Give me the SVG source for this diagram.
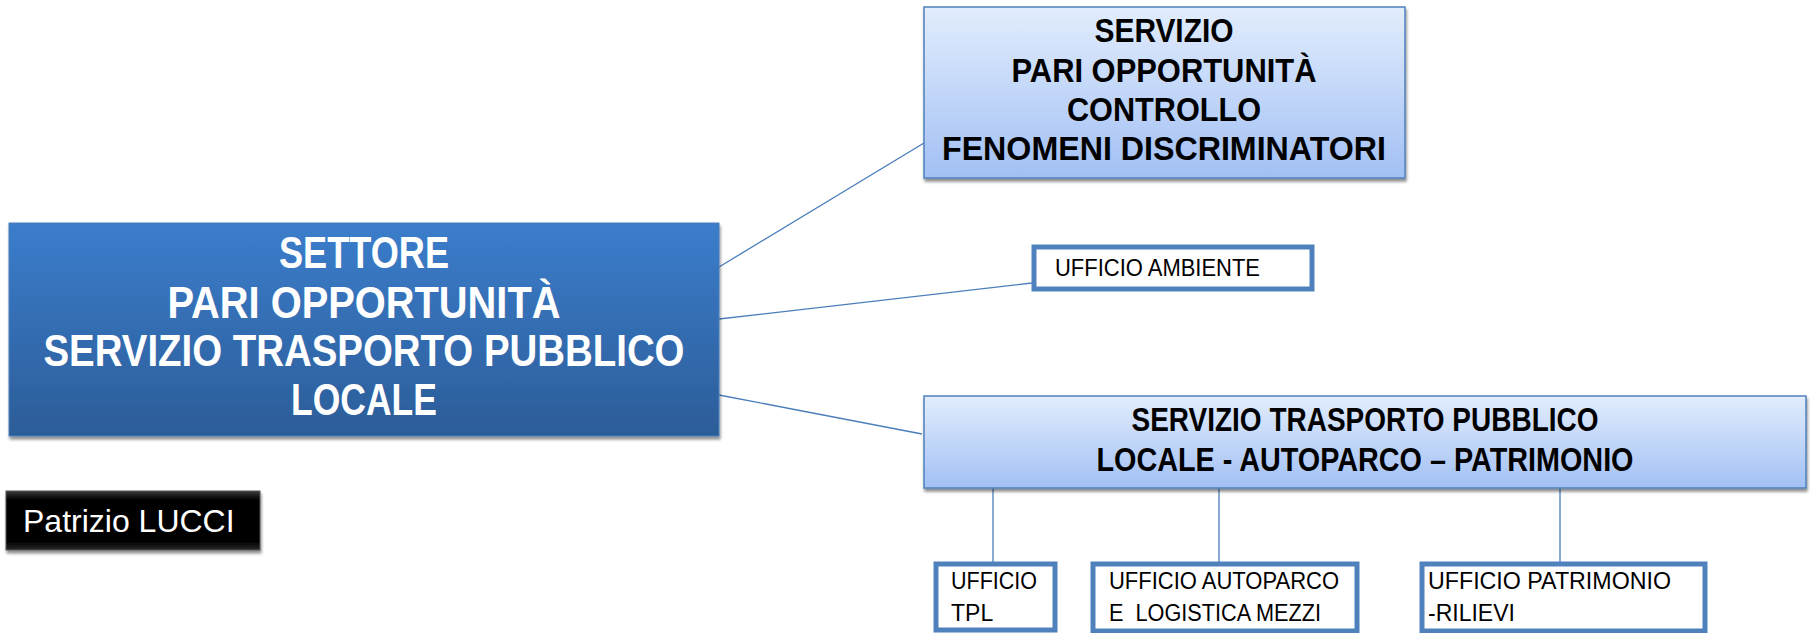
<svg xmlns="http://www.w3.org/2000/svg" width="1812" height="633" viewBox="0 0 1812 633">
<defs>
<linearGradient id="gMain" x1="0" y1="0" x2="0" y2="1">
<stop offset="0" stop-color="#3b7dcc"/>
<stop offset="1" stop-color="#2c5d98"/>
</linearGradient>
<linearGradient id="gLight" x1="0" y1="0" x2="0" y2="1">
<stop offset="0" stop-color="#e2edfd"/>
<stop offset="1" stop-color="#a2c0f4"/>
</linearGradient>
<linearGradient id="gBlack" x1="0" y1="0" x2="0" y2="1">
<stop offset="0" stop-color="#3a3a3a"/>
<stop offset="0.15" stop-color="#000"/>
<stop offset="0.85" stop-color="#000"/>
<stop offset="1" stop-color="#2a2a2a"/>
</linearGradient>
<filter id="sh" x="-5%" y="-5%" width="110%" height="120%">
<feGaussianBlur in="SourceAlpha" stdDeviation="1.5"/>
<feOffset dx="1" dy="3" result="b"/>
<feComponentTransfer><feFuncA type="linear" slope="0.45"/></feComponentTransfer>
<feMerge><feMergeNode/><feMergeNode in="SourceGraphic"/></feMerge>
</filter>
</defs>
<style>
.conn{stroke:#4a7ebb;stroke-width:1.3;fill:none}
.main{fill:url(#gMain);stroke:#4a7ebb;stroke-width:1}
.light{fill:url(#gLight);stroke:#4f81bd;stroke-width:1.5}
.off{fill:#fff;stroke:#4f81bd;stroke-width:5}
.tw{font-family:"Liberation Sans",Arial,sans-serif;font-weight:bold;fill:#fff;text-anchor:middle;font-size:44px}
.tb{font-family:"Liberation Sans",Arial,sans-serif;font-weight:bold;fill:#000;text-anchor:middle;font-size:33px}
.tr{font-family:"Liberation Sans",Arial,sans-serif;fill:#000;font-size:23px}
.tp{font-family:"Liberation Sans",Arial,sans-serif;fill:#fff;font-size:32px}
</style>
<rect width="1812" height="633" fill="#fff"/>
<g id="connectors">
<line class="conn" x1="719" y1="267" x2="924" y2="143"/>
<line class="conn" x1="719" y1="319" x2="1032" y2="283"/>
<line class="conn" x1="719" y1="395" x2="922" y2="434"/>
<line class="conn" x1="993" y1="488" x2="993" y2="562"/>
<line class="conn" x1="1219" y1="488" x2="1219" y2="562"/>
<line class="conn" x1="1560" y1="488" x2="1560" y2="562"/>
</g>
<g id="settore">
<rect class="main" x="9" y="223" width="710" height="213" filter="url(#sh)"/>
<text class="tw" x="364" y="268" textLength="170" lengthAdjust="spacingAndGlyphs">SETTORE</text>
<text class="tw" x="364" y="318" textLength="393" lengthAdjust="spacingAndGlyphs">PARI OPPORTUNITÀ</text>
<text class="tw" x="364" y="366" textLength="641" lengthAdjust="spacingAndGlyphs">SERVIZIO TRASPORTO PUBBLICO</text>
<text class="tw" x="364" y="415" textLength="146" lengthAdjust="spacingAndGlyphs">LOCALE</text>
</g>
<g id="servizio-pari">
<rect class="light" x="924" y="7" width="481" height="171" filter="url(#sh)"/>
<text class="tb" x="1164" y="42" textLength="139" lengthAdjust="spacingAndGlyphs">SERVIZIO</text>
<text class="tb" x="1164" y="82" textLength="305" lengthAdjust="spacingAndGlyphs">PARI OPPORTUNITÀ</text>
<text class="tb" x="1164" y="121" textLength="194" lengthAdjust="spacingAndGlyphs">CONTROLLO</text>
<text class="tb" x="1164" y="160" textLength="444" lengthAdjust="spacingAndGlyphs">FENOMENI DISCRIMINATORI</text>
</g>
<g id="ufficio-ambiente">
<rect class="off" x="1034" y="247" width="278" height="42"/>
<text class="tr" x="1055" y="276" textLength="205" lengthAdjust="spacingAndGlyphs">UFFICIO AMBIENTE</text>
</g>
<g id="servizio-tpl">
<rect class="light" x="924" y="396" width="882" height="92" filter="url(#sh)"/>
<text class="tb" x="1365" y="431" textLength="467" lengthAdjust="spacingAndGlyphs">SERVIZIO TRASPORTO PUBBLICO</text>
<text class="tb" x="1365" y="471" textLength="537" lengthAdjust="spacingAndGlyphs">LOCALE - AUTOPARCO – PATRIMONIO</text>
</g>
<g id="ufficio-tpl">
<rect class="off" x="936" y="564" width="119" height="66"/>
<text class="tr" x="951" y="589" textLength="86" lengthAdjust="spacingAndGlyphs">UFFICIO</text>
<text class="tr" x="951" y="621">TPL</text>
</g>
<g id="ufficio-autoparco">
<rect class="off" x="1093" y="564" width="264" height="67"/>
<text class="tr" x="1109" y="589" textLength="230" lengthAdjust="spacingAndGlyphs">UFFICIO AUTOPARCO</text>
<text class="tr" x="1109" y="621" xml:space="preserve" textLength="212" lengthAdjust="spacingAndGlyphs">E  LOGISTICA MEZZI</text>
</g>
<g id="ufficio-patrimonio">
<rect class="off" x="1422" y="564" width="283" height="67"/>
<text class="tr" x="1428" y="589" textLength="243" lengthAdjust="spacingAndGlyphs">UFFICIO PATRIMONIO</text>
<text class="tr" x="1428" y="621">-RILIEVI</text>
</g>
<g id="patrizio">
<rect x="6" y="491" width="254" height="59" fill="url(#gBlack)" stroke="#555" stroke-width="1" filter="url(#sh)"/>
<text class="tp" x="23" y="532">Patrizio LUCCI</text>
</g>
</svg>
